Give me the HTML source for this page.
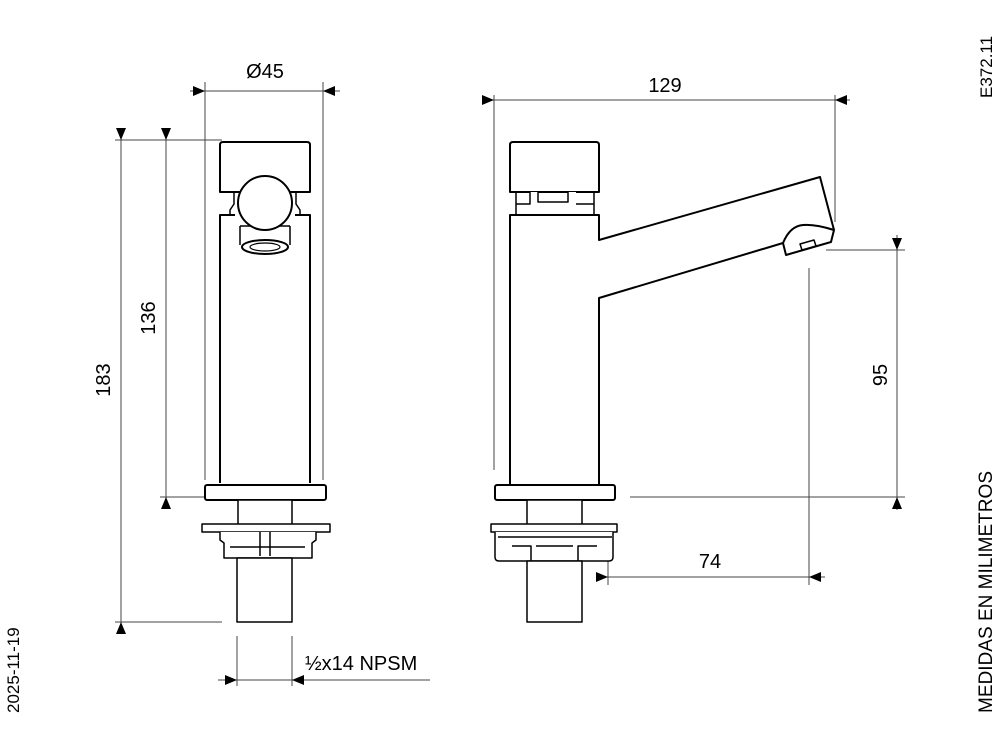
<!DOCTYPE html>
<html><head><style>body{margin:0;background:#fff}svg{display:block}</style></head><body>
<svg width="1000" height="750" viewBox="0 0 1000 750" xmlns="http://www.w3.org/2000/svg" font-family="Liberation Sans, sans-serif">
<g stroke="#444" stroke-width="1" fill="none">
<line x1="205" y1="82" x2="205" y2="480"/><line x1="323" y1="82" x2="323" y2="480"/>
<line x1="190" y1="91" x2="340" y2="91"/>
<line x1="115" y1="140" x2="222" y2="140"/>
<line x1="115" y1="622" x2="222" y2="622"/>
<line x1="160" y1="497" x2="205" y2="497"/>
<line x1="121" y1="130" x2="121" y2="632"/>
<line x1="166" y1="130" x2="166" y2="507"/>
<line x1="237" y1="636" x2="237" y2="686"/><line x1="292" y1="636" x2="292" y2="686"/>
<line x1="218" y1="680" x2="430" y2="680"/>
<line x1="494" y1="95" x2="494" y2="470"/><line x1="835" y1="95" x2="835" y2="222"/>
<line x1="485" y1="100" x2="850" y2="100"/>
<line x1="826" y1="250" x2="905" y2="250"/>
<line x1="630" y1="497" x2="905" y2="497"/>
<line x1="897" y1="235" x2="897" y2="510"/>
<line x1="608" y1="540" x2="608" y2="585"/><line x1="809" y1="268" x2="809" y2="585"/>
<line x1="598" y1="577" x2="825" y2="577"/>
</g>
<g fill="#000">
<path d="M193,86L205,91L193,96z"/><path d="M335,86L323,91L335,96z"/>
<path d="M116,128L121,140L126,128z"/><path d="M116,634L121,622L126,634z"/>
<path d="M161,128L166,140L171,128z"/><path d="M161,509L166,497L171,509z"/>
<path d="M225,675L237,680L225,685z"/><path d="M304,675L292,680L304,685z"/>
<path d="M482,95L494,100L482,105z"/><path d="M847,95L835,100L847,105z"/>
<path d="M892,238L897,250L902,238z"/><path d="M892,509L897,497L902,509z"/>
<path d="M596,572L608,577L596,582z"/><path d="M821,572L809,577L821,582z"/>
</g>
<g stroke="#000" stroke-width="2" fill="#fff" stroke-linejoin="round">
<path d="M220,192V145Q220,142 223,142H307Q310,142 310,145V192Z"/>
<path d="M220,483V215H235M295,215H310V483"/>
<path d="M234,192v12l-4,6v5M296,192v12l4,6v5" stroke-width="1.5"/>
<path d="M240,226V245M290,226V245M240,226H290" stroke-width="1.5"/>
<ellipse cx="265" cy="247" rx="23" ry="7"/><ellipse cx="265" cy="247" rx="15" ry="4" stroke-width="1.2"/>
<circle cx="265" cy="203" r="27"/>
<rect x="205" y="485" width="121" height="15" rx="2"/>
<rect x="238" y="500" width="54" height="25" stroke-width="1.5"/>
<rect x="202" y="524" width="128" height="8" stroke-width="1.5"/>
<path d="M220,532v8l4,3v15h88v-15l4,-3v-8" stroke-width="1.5"/>
<path d="M260,532v24M270,532v24M230,547H305" stroke-width="1.5"/>
<rect x="237" y="558" width="55" height="64" stroke-width="1.5"/>
<path d="M510,192V145Q510,142 513,142H596Q599,142 599,145V192Z"/>
<path d="M516,192V215H594V192M516,192h14v12h-14M538,192h30v10h-30zM576,192h18v12h-18" stroke-width="1.5"/>
<path d="M510,485V215H599V240L820,177L834,230M599,485V298L783,243"/>
<path d="M783,243Q790,226 803,225Q815,224 834,230L831,242L786,255Z"/>
<path d="M800,244l14,-4l2,6l-14,4z" stroke-width="1.5"/>
<rect x="495" y="485" width="120" height="15" rx="2"/>
<rect x="527" y="500" width="55" height="25" stroke-width="1.5"/>
<rect x="491" y="524" width="126" height="8" stroke-width="1.5"/>
<path d="M495,532v25q0,4 4,4h110q4,0 4,-4v-25" stroke-width="1.5"/>
<path d="M498,537H612M512,546H531v15M536,546H573M578,561v-15H597" stroke-width="1.5"/>
<rect x="527" y="561" width="55" height="61" stroke-width="1.5"/>
</g>
<g font-size="20" fill="#000">
<text x="265" y="78" text-anchor="middle">Ø45</text>
<text x="665" y="92" text-anchor="middle">129</text>
<text x="710" y="568" text-anchor="middle">74</text>
<text x="305" y="670">½x14 NPSM</text>
<text transform="translate(110,380) rotate(-90)" text-anchor="middle">183</text>
<text transform="translate(155,318) rotate(-90)" text-anchor="middle">136</text>
<text transform="translate(887,375) rotate(-90)" text-anchor="middle">95</text>
</g>
<g fill="#000">
<text transform="translate(992,98) rotate(-90)" font-size="17">E372.11</text>
<text transform="translate(992,713) rotate(-90)" font-size="19" textLength="242" lengthAdjust="spacingAndGlyphs">MEDIDAS EN MILIMETROS</text>
<text transform="translate(19,713) rotate(-90)" font-size="17">2025-11-19</text>
</g>
</svg>
</body></html>
